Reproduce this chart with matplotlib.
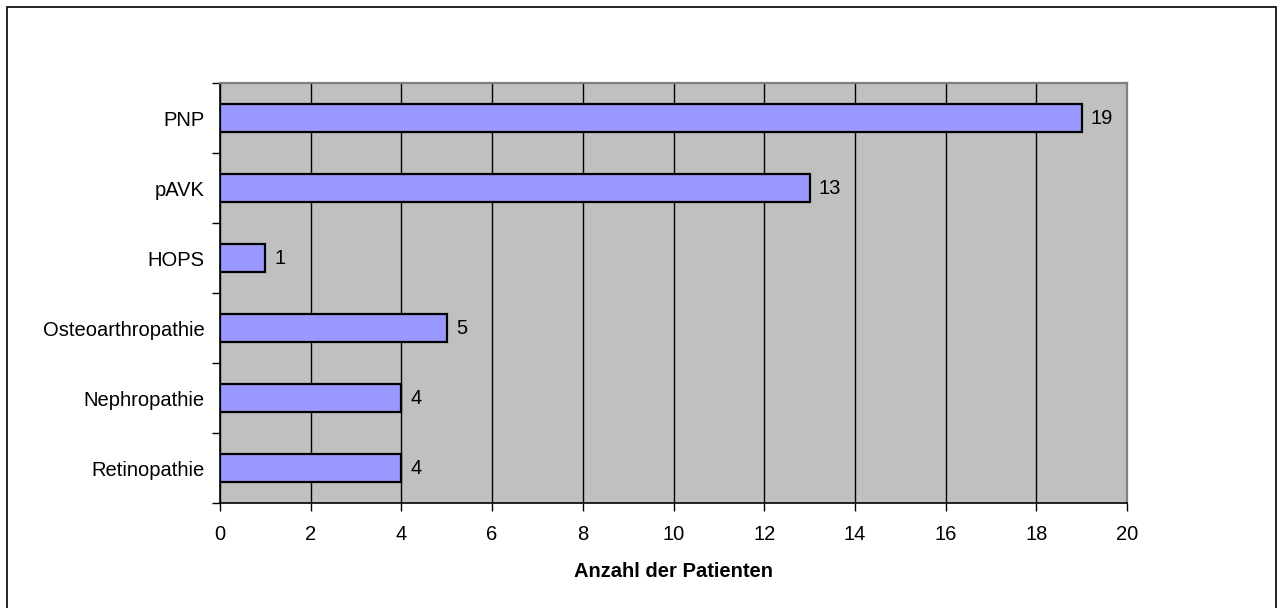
import matplotlib
matplotlib.use("Agg")
import matplotlib.pyplot as plt
from matplotlib.patches import Rectangle
import numpy as np

plt.rcParams['font.family'] = ['Liberation Sans', 'DejaVu Sans']

categories = ["Retinopathie", "Nephropathie", "Osteoarthropathie", "HOPS", "pAVK", "PNP"]
patients = [4, 4, 5, 1, 13, 19]
x_ticks = [0, 2, 4, 6, 8, 10, 12, 14, 16, 18, 20]
x_label = "Anzahl der Patienten"

W, H = 1278, 608
fig = plt.figure(figsize=(W / 100, H / 100), dpi=100)

FS = 14.5

# outer frame of the chart
fig.patches.append(Rectangle((7 / W, -0.01), (1276 - 7) / W, (H - 7) / H + 0.01,
                             transform=fig.transFigure, fill=False,
                             edgecolor="black", linewidth=1.2))

ax = fig.add_axes([220 / W, 1 - 503 / H, (1127 - 220) / W, (503 - 83) / H])
ax.set_facecolor("#C0C0C0")

y = np.arange(len(categories))
ax.barh(y, patients, height=0.4, color="#9999FF", edgecolor="black",
        linewidth=1.6, zorder=3)
for yi, v in zip(y, patients):
    ax.text(v + 0.2, yi, str(v), va="center", ha="left", fontsize=FS, zorder=4)

ax.set_xlim(0, 20)
ax.set_ylim(-0.5, len(categories) - 0.5)
ax.set_xticks(x_ticks)
ax.set_xticklabels([str(t) for t in x_ticks], fontsize=FS)
ax.set_yticks(y)
ax.set_yticklabels(categories, fontsize=FS)
ax.set_yticks(np.arange(-0.5, len(categories)), minor=True)

ax.tick_params(axis="y", which="major", length=0, pad=11)
ax.tick_params(axis="y", which="minor", length=6, width=1, direction="out")
ax.tick_params(axis="x", which="major", length=6, width=1, direction="out", pad=10)

ax.xaxis.grid(True, color="black", linewidth=1, zorder=1)
ax.set_axisbelow(True)

for side in ("left", "bottom"):
    ax.spines[side].set_color("black")
    ax.spines[side].set_linewidth(1.2)
for side in ("top", "right"):
    ax.spines[side].set_color("#808080")
    ax.spines[side].set_linewidth(1.6)

ax.set_xlabel(x_label, fontsize=FS, fontweight="bold", labelpad=13)

fig.savefig("out.png", dpi=100)
